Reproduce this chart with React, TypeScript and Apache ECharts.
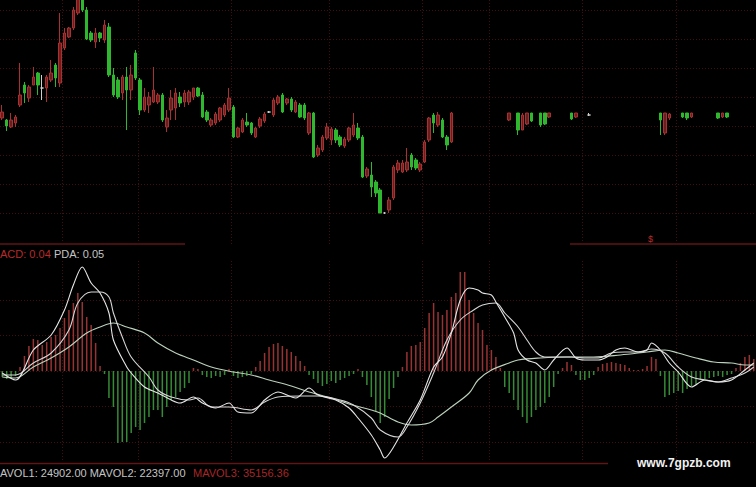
import React, { useEffect, useRef } from "react";
import * as echarts from "echarts";

// Trading days on the shared time axis
const days: string[] = Array.from({ length: 170 }, (_, i) => `D${i + 1}`);

// Days where a new month begins (vertical separators)
const monthStarts = [14, 31, 52, 74, 95, 110, 131, 152];

// Daily bars: [day index, open, close, low, high]
const candleRows: number[][] = [
  [0, 28.2, 28.8, 28.0, 29.5],
  [1, 28.0, 27.4, 26.9, 28.1],
  [2, 27.3, 28.0, 27.2, 28.7],
  [3, 27.7, 28.3, 27.3, 28.5],
  [4, 29.5, 30.5, 29.3, 33.7],
  [5, 31.5, 30.7, 29.7, 31.8],
  [6, 30.2, 31.3, 29.8, 31.5],
  [7, 31.5, 32.3, 31.5, 33.3],
  [8, 32.7, 31.5, 30.5, 32.8],
  [9, 31.2, 31.2, 30.0, 32.5],
  [10, 31.2, 32.3, 29.8, 32.5],
  [11, 32.0, 32.7, 31.8, 34.0],
  [12, 33.5, 32.2, 31.3, 33.7],
  [13, 31.7, 35.7, 31.3, 38.7],
  [14, 35.2, 36.7, 35.0, 37.2],
  [15, 36.3, 37.2, 36.2, 37.3],
  [16, 37.2, 39.0, 37.0, 39.3],
  [17, 38.7, 40.2, 38.5, 40.5],
  [18, 40.3, 39.0, 38.8, 40.6],
  [19, 39.0, 36.1, 36.0, 39.3],
  [20, 36.7, 36.0, 35.8, 36.9],
  [21, 35.8, 36.7, 35.2, 37.2],
  [22, 36.7, 36.2, 35.8, 36.8],
  [23, 36.0, 37.5, 35.7, 38.0],
  [24, 37.3, 32.5, 32.3, 37.7],
  [25, 32.5, 30.5, 30.3, 33.2],
  [26, 32.0, 30.3, 30.1, 32.3],
  [27, 30.7, 32.3, 30.0, 32.5],
  [28, 32.3, 31.0, 27.0, 33.3],
  [29, 31.0, 32.5, 30.0, 33.5],
  [30, 34.7, 32.2, 32.0, 35.0],
  [31, 32.0, 29.0, 28.5, 32.2],
  [32, 29.0, 30.3, 28.8, 31.2],
  [33, 29.5, 30.3, 28.7, 30.8],
  [34, 29.8, 31.0, 29.7, 33.3],
  [35, 29.8, 30.5, 29.6, 30.7],
  [36, 30.5, 28.0, 27.8, 30.7],
  [37, 27.3, 28.2, 26.8, 29.0],
  [38, 29.0, 30.2, 28.0, 31.0],
  [39, 29.2, 30.7, 28.0, 31.2],
  [40, 30.3, 29.7, 29.3, 30.8],
  [41, 29.8, 30.7, 29.3, 31.0],
  [42, 29.8, 30.8, 29.5, 31.0],
  [43, 30.3, 31.2, 30.0, 31.2],
  [44, 31.2, 30.4, 30.3, 31.3],
  [45, 30.5, 28.3, 28.2, 30.8],
  [46, 28.8, 28.0, 27.8, 29.0],
  [47, 27.5, 28.0, 27.3, 28.2],
  [48, 27.7, 28.6, 27.5, 28.8],
  [49, 28.0, 29.2, 27.8, 29.3],
  [50, 28.5, 29.5, 28.3, 29.7],
  [51, 29.0, 30.2, 28.8, 31.2],
  [52, 29.3, 26.3, 26.2, 29.5],
  [53, 26.3, 27.2, 26.2, 27.3],
  [54, 26.8, 28.0, 26.7, 28.2],
  [55, 27.8, 27.5, 27.3, 28.7],
  [56, 27.7, 26.7, 26.5, 27.8],
  [57, 26.3, 27.2, 26.2, 27.3],
  [58, 27.4, 28.1, 27.2, 28.3],
  [59, 27.9, 28.6, 27.7, 28.8],
  [60, 28.8, 28.8, 28.7, 28.9],
  [61, 28.5, 30.0, 28.3, 30.2],
  [62, 29.7, 30.3, 29.5, 30.5],
  [63, 30.5, 28.8, 28.7, 30.7],
  [64, 29.7, 30.1, 29.5, 30.2],
  [65, 30.1, 29.0, 28.8, 30.3],
  [66, 28.8, 29.8, 28.7, 30.0],
  [67, 29.5, 28.3, 28.2, 29.7],
  [68, 29.5, 28.2, 28.0, 29.7],
  [69, 26.7, 28.7, 26.5, 28.8],
  [70, 28.7, 24.3, 24.2, 28.8],
  [71, 24.5, 25.2, 24.3, 25.5],
  [72, 25.0, 26.3, 24.8, 26.5],
  [73, 26.2, 27.3, 26.0, 27.7],
  [74, 26.0, 27.1, 25.5, 27.3],
  [75, 27.0, 26.0, 25.7, 27.2],
  [76, 26.3, 25.5, 25.3, 26.5],
  [77, 25.4, 26.1, 25.2, 26.3],
  [78, 26.0, 27.2, 25.8, 27.3],
  [79, 26.5, 27.5, 26.3, 28.7],
  [80, 27.2, 26.2, 26.0, 27.7],
  [81, 26.3, 22.3, 22.2, 26.5],
  [82, 22.4, 23.1, 22.2, 23.3],
  [83, 22.5, 21.3, 20.3, 23.8],
  [84, 21.8, 20.7, 20.3, 22.0],
  [85, 21.0, 18.7, 18.7, 21.2],
  [86, 18.7, 18.7, 18.6, 18.8],
  [87, 19.0, 20.0, 18.7, 20.3],
  [88, 20.2, 23.3, 20.0, 23.5],
  [89, 23.0, 23.7, 22.7, 24.0],
  [90, 22.8, 23.7, 22.7, 24.0],
  [91, 23.0, 23.8, 22.8, 25.2],
  [92, 24.5, 23.3, 23.0, 24.7],
  [93, 24.0, 23.2, 23.0, 24.2],
  [94, 23.0, 23.6, 22.8, 23.8],
  [95, 23.8, 25.8, 23.7, 26.0],
  [96, 26.0, 28.2, 25.8, 28.3],
  [97, 28.5, 27.7, 26.7, 28.7],
  [98, 27.5, 28.5, 27.3, 28.8],
  [99, 28.0, 26.3, 26.2, 28.2],
  [100, 26.3, 25.5, 25.0, 26.5],
  [101, 25.8, 28.7, 25.7, 28.8],
  [114, 28.0, 28.7, 27.9, 28.7],
  [116, 28.7, 27.0, 26.5, 28.7],
  [117, 27.0, 28.5, 27.0, 28.7],
  [118, 27.6, 28.7, 27.5, 28.7],
  [119, 28.7, 27.9, 27.8, 28.7],
  [121, 28.7, 27.5, 27.3, 28.7],
  [122, 28.7, 27.6, 27.5, 28.7],
  [123, 28.3, 28.7, 28.2, 28.7],
  [128, 28.7, 28.1, 28.0, 28.7],
  [129, 28.3, 28.7, 28.2, 28.7],
  [132, 28.5, 28.5, 28.4, 28.7],
  [148, 28.7, 28.0, 26.5, 28.7],
  [149, 26.7, 28.7, 26.5, 28.7],
  [150, 28.2, 28.6, 28.0, 28.7],
  [153, 28.7, 28.3, 28.2, 28.7],
  [154, 28.7, 28.2, 28.0, 28.7],
  [155, 28.3, 28.7, 28.2, 28.7],
  [161, 28.7, 28.2, 28.1, 28.7],
  [162, 28.3, 28.7, 28.2, 28.7],
  [163, 28.7, 28.3, 28.2, 28.7],
];

// Oscillator histogram, one value per day
const histogram: number[] = [
  -0.06, -0.08, -0.07, -0.05, 0.04, 0.15, 0.25, 0.32, 0.31, 0.26,
  0.29, 0.34, 0.36, 0.43, 0.53, 0.61, 0.68, 0.78, 0.69, 0.54,
  0.46, 0.28, 0.05, -0.03, -0.27, -0.36, -0.72, -0.71, -0.71, -0.62,
  -0.56, -0.59, -0.52, -0.46, -0.39, -0.39, -0.46, -0.36, -0.29, -0.26,
  -0.21, -0.17, -0.12, 0.03, 0.02, -0.04, -0.06, -0.07, -0.05, -0.06,
  -0.04, 0.02, -0.05, -0.07, -0.06, -0.05, -0.03, 0.04, 0.1, 0.18,
  0.24, 0.27, 0.28, 0.25, 0.22, 0.19, 0.15, 0.1, 0.05, -0.04,
  -0.08, -0.12, -0.15, -0.13, -0.1, -0.12, -0.09, -0.07, -0.05, -0.03,
  0.02, -0.06, -0.14, -0.26, -0.4, -0.52, -0.46, -0.28, -0.17, -0.06,
  0.04, 0.19, 0.25, 0.26, 0.29, 0.43, 0.58, 0.68, 0.59, 0.56,
  0.61, 0.74, 0.78, 0.99, 0.99, 0.71, 0.58, 0.48, 0.41, 0.26,
  0.21, 0.14, 0.03, -0.16, -0.22, -0.29, -0.39, -0.46, -0.52, -0.46,
  -0.39, -0.36, -0.32, -0.26, -0.16, -0.03, 0.03, 0.09, 0.06, -0.04,
  -0.09, -0.09, -0.07, -0.04, 0.04, 0.07, 0.08, 0.09, 0.08, 0.07,
  0.06, 0.03, 0.01, 0.01, 0.02, 0.05, 0.14, 0.12, -0.05, -0.26,
  -0.24, -0.22, -0.2, -0.22, -0.18, -0.15, -0.13, -0.09, -0.08, -0.07,
  -0.06, -0.05, -0.06, -0.04, -0.03, 0.03, 0.08, 0.14, 0.16, 0.12,
];

// Fast line: [day index, value]
const fastLine: number[][] = [
  [0, -0.02], [3, -0.09], [7, 0.21], [11, 0.36], [14, 0.61], [16, 0.86],
  [18, 1.04], [20, 0.88], [22, 0.78], [24, 0.58], [25, 0.31], [28, 0.04],
  [29, -0.02], [32, -0.16], [35, -0.22], [38, -0.29], [40, -0.32], [43, -0.26],
  [45, -0.32], [48, -0.37], [51, -0.32], [53, -0.41], [56, -0.42], [59, -0.29],
  [62, -0.21], [66, -0.27], [69, -0.17], [71, -0.24], [75, -0.29], [78, -0.37],
  [80, -0.47], [83, -0.64], [85, -0.79], [86, -0.87], [88, -0.76], [91, -0.52],
  [94, -0.29], [97, 0.04], [99, 0.14], [101, 0.38], [103, 0.71], [105, 0.83],
  [107, 0.81], [108, 0.78], [110, 0.76], [111, 0.69], [113, 0.54], [115, 0.38],
  [116, 0.21], [118, 0.11], [120, 0.08], [122, 0.01], [124, 0.11], [127, 0.23],
  [129, 0.13], [131, 0.11], [134, 0.11], [136, 0.14], [138, 0.21], [140, 0.23],
  [143, 0.19], [145, 0.21], [146, 0.28], [148, 0.21], [150, 0.08], [152, -0.01],
  [155, -0.16], [158, -0.09], [161, -0.11], [164, -0.09], [167, 0.01], [169, 0.08],
];

// Signal line: [day index, value]
const signalLine: number[][] = [
  [0, -0.04], [3, -0.04], [7, 0.08], [11, 0.18], [15, 0.41], [17, 0.68],
  [20, 0.79], [22, 0.79], [24, 0.74], [25, 0.58], [27, 0.34], [29, 0.14],
  [33, -0.06], [35, -0.19], [38, -0.26], [42, -0.29], [44, -0.27], [47, -0.36],
  [51, -0.36], [56, -0.39], [59, -0.31], [62, -0.26], [67, -0.25], [71, -0.25],
  [76, -0.29], [79, -0.34], [83, -0.47], [85, -0.59], [89, -0.66], [91, -0.56],
  [94, -0.32], [97, -0.02], [100, 0.31], [103, 0.51], [106, 0.61], [108, 0.66],
  [111, 0.68], [113, 0.58], [116, 0.44], [118, 0.31], [120, 0.19], [122, 0.14],
  [125, 0.14], [128, 0.14], [131, 0.13], [134, 0.13], [137, 0.18], [140, 0.19],
  [143, 0.19], [146, 0.22], [149, 0.18], [152, 0.04], [155, -0.06], [158, -0.09],
  [161, -0.11], [164, -0.07], [167, -0.02], [169, 0.04],
];

// Slow line: [day index, value]
const slowLine: number[][] = [
  [0, -0.06], [3, -0.07], [7, 0.04], [11, 0.13], [15, 0.24], [19, 0.38],
  [22, 0.44], [25, 0.48], [28, 0.44], [32, 0.38], [35, 0.28], [39, 0.18],
  [43, 0.11], [47, 0.04], [52, -0.01], [56, -0.04], [60, -0.09], [65, -0.15],
  [69, -0.21], [74, -0.27], [78, -0.33], [83, -0.39], [85, -0.42], [89, -0.51],
  [92, -0.54], [96, -0.52], [98, -0.46], [101, -0.36], [105, -0.22], [107, -0.09],
  [110, 0.01], [114, 0.08], [116, 0.11], [121, 0.13], [127, 0.14], [133, 0.14],
  [139, 0.16], [145, 0.19], [149, 0.21], [152, 0.18], [156, 0.13], [160, 0.09],
  [164, 0.08], [167, 0.06], [169, 0.06],
];

// Readouts shown in the panel headers
const acdValue = 0.04;
const pdaValue = 0.05;
const mavol1 = 24902.0;
const mavol2 = 22397.0;
const mavol3 = 35156.36;

const UP = "#a83232";
const DOWN = "#2fb82f";
const GRID = "#3e1010";
const FONT = '"Liberation Sans", Arial, sans-serif';

function buildCandles() {
  const out: any[] = days.map(() => "-");
  candleRows.forEach(([i, o, c, l, h]) => {
    out[i] = [o, c, l, h];
  });
  return out;
}

const hiddenValueAxis = (grid: number, min: number, max: number, extra: any = {}) => ({
  type: "value",
  gridIndex: grid,
  min,
  max,
  axisLine: { show: false },
  axisTick: { show: false },
  axisLabel: { show: false },
  splitLine: { show: false },
  ...extra,
});

const dayAxis = (grid: number) => ({
  type: "category",
  gridIndex: grid,
  data: days,
  boundaryGap: true,
  axisLine: { show: false },
  axisTick: { show: false },
  axisLabel: { show: false },
  splitLine: {
    show: true,
    interval: (index: number) => monthStarts.includes(index),
    lineStyle: { color: GRID, width: 1, type: [1, 2] },
  },
});

export default function App() {
  const ref = useRef<HTMLDivElement>(null);

  useEffect(() => {
    if (!ref.current) return;
    const chart = echarts.init(ref.current, undefined, { renderer: "svg" });
    const dotted = { color: GRID, width: 1, type: [1, 2] };

    chart.setOption({
      animation: false,
      backgroundColor: "#000000",
      grid: [
        { left: 0, right: 0, top: 0, height: 245 },
        { left: 0, right: 0, top: 261, height: 200 },
        { left: 0, right: 0, top: 10, height: 203 },
        { left: 0, right: 0, top: 300, height: 142 },
      ],
      xAxis: [
        dayAxis(0),
        dayAxis(1),
        hiddenValueAxis(2, 0, 1),
        hiddenValueAxis(3, 0, 1),
      ],
      yAxis: [
        hiddenValueAxis(0, 15.5, 40),
        hiddenValueAxis(1, -0.9, 1.1),
        hiddenValueAxis(2, 0, 7, { interval: 1, splitLine: { show: true, lineStyle: dotted } }),
        hiddenValueAxis(3, 0, 4, { interval: 1, splitLine: { show: true, lineStyle: dotted } }),
      ],
      series: [
        {
          type: "candlestick",
          xAxisIndex: 0,
          yAxisIndex: 0,
          clip: true,
          barWidth: 3,
          data: buildCandles(),
          itemStyle: {
            color: "#6e1c1c",
            color0: DOWN,
            borderColor: UP,
            borderColor0: DOWN,
            borderColorDoji: "#cfcfcf",
            borderWidth: 1,
          },
        },
        {
          type: "bar",
          xAxisIndex: 1,
          yAxisIndex: 1,
          barWidth: 1.5,
          data: histogram,
          itemStyle: {
            color: (p: any) => (p.value >= 0 ? "#983333" : "#378a37"),
          },
        },
        {
          type: "line",
          xAxisIndex: 1,
          yAxisIndex: 1,
          data: slowLine,
          showSymbol: false,
          smooth: 0.35,
          lineStyle: { color: "#bcd2bc", width: 1.1 },
        },
        {
          type: "line",
          xAxisIndex: 1,
          yAxisIndex: 1,
          data: signalLine,
          showSymbol: false,
          smooth: 0.35,
          lineStyle: { color: "#d6d6d6", width: 1.1 },
        },
        {
          type: "line",
          xAxisIndex: 1,
          yAxisIndex: 1,
          data: fastLine,
          showSymbol: false,
          smooth: 0.3,
          lineStyle: { color: "#e6e6e6", width: 1.1 },
        },
      ],
      graphic: [
        { type: "line", shape: { x1: 0, y1: 244, x2: 185, y2: 244 }, style: { stroke: "#5e1616", lineWidth: 1.5 } },
        { type: "line", shape: { x1: 570, y1: 244, x2: 756, y2: 244 }, style: { stroke: "#5e1616", lineWidth: 1.5 } },
        { type: "line", shape: { x1: 0, y1: 463.5, x2: 608, y2: 463.5 }, style: { stroke: "#5e1616", lineWidth: 1.5 } },
        {
          type: "text", x: 648, y: 239,
          style: { text: "$", fill: "#b82c2c", font: `9px ${FONT}`, textVerticalAlign: "middle" },
        },
        {
          type: "text", x: 0, y: 254,
          style: { text: `ACD: ${acdValue.toFixed(2)}`, fill: "#b82a2a", font: `11px ${FONT}`, textVerticalAlign: "middle" },
        },
        {
          type: "text", x: 54, y: 254,
          style: { text: `PDA: ${pdaValue.toFixed(2)}`, fill: "#c4c4c4", font: `11px ${FONT}`, textVerticalAlign: "middle" },
        },
        {
          type: "text", x: 0, y: 473,
          style: {
            text: `AVOL1: ${mavol1.toFixed(2)} MAVOL2: ${mavol2.toFixed(2)}`,
            fill: "#c4c4c4", font: `11px ${FONT}`, textVerticalAlign: "middle",
          },
        },
        {
          type: "text", x: 193, y: 473,
          style: { text: `MAVOL3: ${mavol3.toFixed(2)}`, fill: "#a82626", font: `11px ${FONT}`, textVerticalAlign: "middle" },
        },
        {
          type: "text", x: 637, y: 463,
          style: { text: "www.7gpzb.com", fill: "#f2f2f2", font: `bold 12px ${FONT}`, textVerticalAlign: "middle" },
        },
      ],
    });

    return () => chart.dispose();
  }, []);

  return (
    <div
      ref={ref}
      style={{ position: "fixed", left: 0, top: 0, width: 756, height: 487, background: "#000" }}
    />
  );
}
